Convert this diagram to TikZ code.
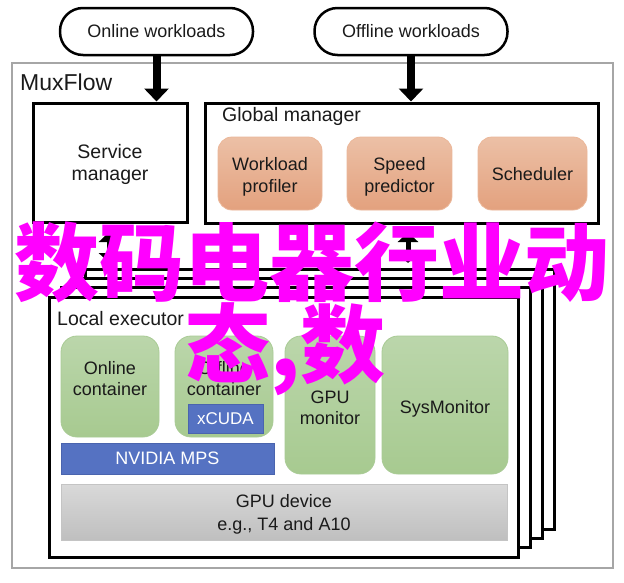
\documentclass[tikz,border=0pt]{standalone}
\usepackage{fontspec}
\setmainfont{Liberation Sans}
\newfontfamily\cjkfont{Noto Sans CJK SC}
\usetikzlibrary{arrows.meta}
\definecolor{txtcol}{HTML}{1A1A1A}
\definecolor{muxgray}{HTML}{A6A6A6}
\definecolor{orangetop}{HTML}{ECC0A6}
\definecolor{orangebot}{HTML}{E3A17E}
\definecolor{orangeborder}{HTML}{EBB799}
\definecolor{greentop}{HTML}{BBD6AB}
\definecolor{greenbot}{HTML}{A7CA90}
\definecolor{greenborder}{HTML}{A9CB95}
\definecolor{bluefill}{HTML}{5572C2}
\definecolor{blueborder}{HTML}{4A64AE}
\definecolor{graytop}{HTML}{D9D9D9}
\definecolor{graybot}{HTML}{BFBFBF}
\definecolor{grayborder}{HTML}{C4C4C4}
\definecolor{wmmagenta}{HTML}{FF00FF}
\tikzset{
  blackbox/.style={draw=black, line width=3pt, fill=white, inner sep=0pt},
  pill/.style={draw=black, line width=2.5pt, rounded corners=23pt, minimum width=193pt, minimum height=47pt, font=\fontsize{18}{21}\selectfont, text=txtcol},
  orangebox/.style={draw=orangeborder, line width=0.8pt, rounded corners=14pt, top color=orangetop, bottom color=orangebot, minimum height=73pt, inner sep=0pt},
  greenbox/.style={draw=greenborder, line width=0.8pt, rounded corners=16pt, top color=greentop, bottom color=greenbot, inner sep=0pt},
  bluebox/.style={draw=blueborder, line width=0.8pt, fill=bluefill, text=white, font=\fontsize{18}{21}\selectfont, inner sep=0pt},
  graybox/.style={draw=grayborder, line width=0.8pt, top color=graytop, bottom color=graybot, inner sep=0pt},
  boxtext/.style={align=center, font=\fontsize{18}{21}\selectfont, text=txtcol, inner sep=0pt},
  bigarrow/.style={line width=8pt, -{Triangle[width=24pt,length=13pt]}},
  dblarrow/.style={line width=5pt, {Triangle[width=20pt,length=10pt]}-{Triangle[width=20pt,length=10pt]}},
  lbl/.style={anchor=west, inner sep=0pt, text=txtcol},
  watermark/.style={anchor=base west, inner sep=0pt, text=wmmagenta, font={\cjkfont\bfseries\fontsize{85}{85}\selectfont}}
}
\begin{document}
\begin{tikzpicture}[x=1pt,y=-1pt]
\useasboundingbox (0,0) rectangle (624,582);
% outer MuxFlow frame
\node[draw=muxgray, line width=2.5pt, minimum width=601pt, minimum height=505pt, inner sep=0pt] (mux) at (312.5,315.5) {};
\node[lbl, font=\fontsize{23}{26}\selectfont] (muxlbl) at (20,82.5) {MuxFlow};
% workloads
\node[pill] (online) at (156.5,31.5) {Online workloads};
\node[pill] (offline) at (411,31.5) {Offline workloads};
% managers
\node[blackbox, minimum width=154pt, minimum height=119pt] (svc) at (110,162.5) {};
\node[boxtext, font=\fontsize{19.5}{22}\selectfont] (svctxt) at (110,164.5) {Service\\manager};
\node[blackbox, minimum width=393pt, minimum height=120pt] (gm) at (401.5,163) {};
\node[lbl, font=\fontsize{19.5}{22}\selectfont] (gmlbl) at (222,116) {Global manager};
\node[orangebox, minimum width=104pt] (wp) at (270,173.5) {};
\node[boxtext, font=\fontsize{18}{22}\selectfont] (wptxt) at (270,177) {Workload\\profiler};
\node[orangebox, minimum width=105pt] (sp) at (399.5,173.5) {};
\node[boxtext, font=\fontsize{18}{22}\selectfont] (sptxt) at (399.5,177) {Speed\\predictor};
\node[orangebox, minimum width=109pt] (sch) at (532.5,173.5) {};
\node[boxtext] (schtxt) at (532.5,174.5) {Scheduler};
% input arrows
\draw[bigarrow] (online.south) -- (online.south |- svc.north);
\draw[bigarrow] (offline.south) -- (offline.south |- gm.north);
% double arrows
\coordinate (la1) at (109,232);
\coordinate (la2) at (109,263);
\coordinate (ra1) at (408,232);
\coordinate (ra2) at (408,263);
\draw[dblarrow] (la1) -- (la2);
\draw[dblarrow] (ra1) -- (ra2);
% stacked executors
\node[blackbox, minimum width=469pt, minimum height=260pt] (ex3) at (320.4,399.1) {};
\node[blackbox, minimum width=469pt, minimum height=260pt] (ex2) at (308.1,408.4) {};
\node[blackbox, minimum width=469pt, minimum height=260pt] (ex1) at (295.8,417.7) {};
\node[blackbox, minimum width=469pt, minimum height=260pt] (ex0) at (283.5,427) {};
\node[lbl, font=\fontsize{19.5}{22}\selectfont] (exlbl) at (57,319) {Local executor};
% containers
\node[greenbox, minimum width=98pt, minimum height=101pt] (oc) at (110,386.5) {};
\node[boxtext] (octxt) at (110,378.5) {Online\\container};
\node[greenbox, minimum width=98pt, minimum height=101pt] (fc) at (224,386.5) {};
\node[boxtext] (fctxt) at (224,378.5) {Offline\\container};
\node[bluebox, minimum width=75pt, minimum height=29pt, font=\fontsize{17}{20}\selectfont] (xcuda) at (225.5,418.5) {xCUDA};
\node[greenbox, minimum width=90pt, minimum height=138pt] (gmon) at (330,405) {};
\node[boxtext] (gmontxt) at (330,407.5) {GPU\\monitor};
\node[greenbox, minimum width=126pt, minimum height=138pt] (sysm) at (445,405) {};
\node[boxtext] (sysmtxt) at (445,408.5) {SysMonitor};
\node[bluebox, minimum width=213pt, minimum height=31pt] (mps) at (167.5,458.5) {NVIDIA MPS};
\node[graybox, minimum width=446pt, minimum height=56pt] (gpu) at (284,512) {};
\node[boxtext, font=\fontsize{18}{23}\selectfont] (gputxt) at (284,514.5) {GPU device\\e.g., T4 and A10};
% overlaid magenta text
\node[watermark] (wm1) at (14,294) {数码电器行业动};
\node[watermark] (wm2) at (185,376) {态,数};
\end{tikzpicture}
\end{document}
